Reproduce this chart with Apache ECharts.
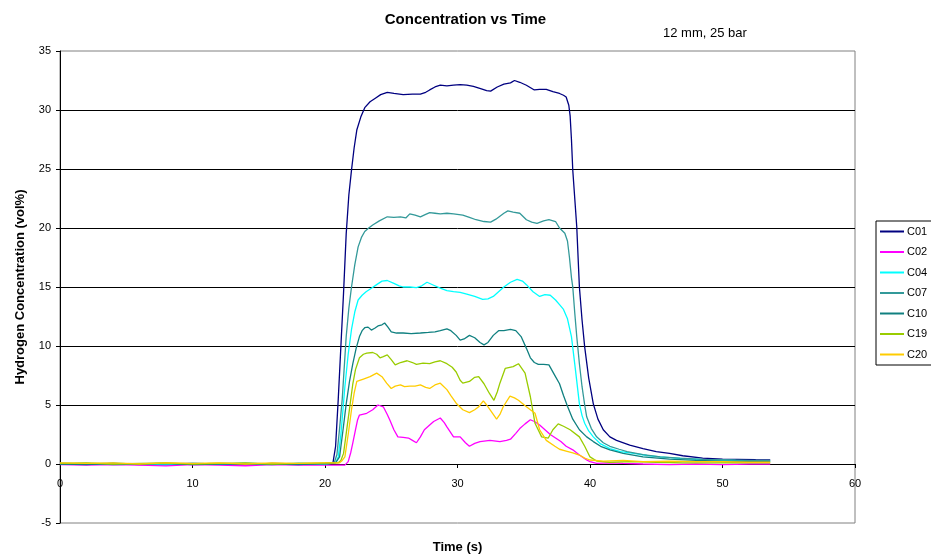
<!DOCTYPE html>
<html>
<head>
<meta charset="utf-8">
<script src="https://cdn.jsdelivr.net/npm/echarts@6/dist/echarts.min.js"></script>
<style>
  html, body { margin: 0; padding: 0; background: #fff; }
  #main { width: 931px; height: 557px; }
</style>
</head>
<body>
<div id="main"></div>
<script>
// [time (s), concentration (vol%)]
var c01 = [
  [0,0.05],[2,0.0],[4,0.05],[6,-0.05],[8,0.0],[10,0.05],[12,0.0],[14,-0.05],[16,0.05],[18,0.0],[20,0.05],[20.6,0.1],
  [20.8,1.5],[21.0,5.5],[21.2,10.0],[21.4,14.5],[21.6,19.5],[21.8,22.8],[22.0,24.9],[22.2,26.8],[22.4,28.3],[22.7,29.4],
  [23.0,30.2],[23.4,30.7],[23.8,31.0],[24.2,31.3],[24.7,31.5],[25.2,31.4],[25.9,31.3],[26.6,31.35],[27.2,31.35],[27.6,31.5],
  [27.9,31.7],[28.3,31.95],[28.7,32.1],[29.2,32.05],[29.7,32.1],[30.2,32.15],[30.7,32.1],[31.2,32.0],[31.8,31.8],[32.2,31.65],
  [32.5,31.6],[33.0,31.95],[33.5,32.2],[34.0,32.3],[34.3,32.5],[34.7,32.35],[35.2,32.1],[35.8,31.7],[36.2,31.75],[36.7,31.75],
  [37.2,31.55],[37.7,31.4],[38.0,31.25],[38.2,31.1],[38.4,30.4],[38.5,29.5],[38.6,27.5],[38.7,24.9],[38.85,22.5],[39.0,20.1],
  [39.2,15.0],[39.4,12.2],[39.6,9.9],[39.9,7.3],[40.25,5.1],[40.6,3.8],[41.0,2.9],[41.5,2.3],[42.0,2.0],[43.0,1.6],[44.0,1.3],
  [45.0,1.05],[46.0,0.9],[47.0,0.7],[48.5,0.5],[50,0.42],[51.1,0.4],[52.5,0.36],[53.6,0.35]
];
var c02 = [
  [0,-0.05],[2,-0.1],[4,-0.05],[6,-0.1],[8,-0.15],[10,-0.05],[12,-0.1],[14,-0.15],[16,-0.05],[18,-0.1],[20,-0.1],[21.5,-0.1],
  [21.75,0.2],[21.95,1.0],[22.1,1.8],[22.3,2.9],[22.45,3.7],[22.6,4.15],[23.15,4.3],[23.6,4.6],[24.0,5.0],[24.4,4.85],[24.7,4.2],
  [24.9,3.7],[25.2,2.9],[25.5,2.3],[25.9,2.25],[26.3,2.2],[26.6,2.0],[26.9,1.8],[27.2,2.3],[27.5,2.9],[27.9,3.3],[28.2,3.6],
  [28.7,3.9],[29.0,3.5],[29.2,3.15],[29.7,2.3],[30.2,2.3],[30.6,1.8],[30.9,1.5],[31.3,1.75],[31.7,1.9],[32.45,2.0],[33.2,1.9],
  [33.7,2.0],[34.0,2.1],[34.4,2.6],[34.7,3.0],[35.1,3.4],[35.5,3.75],[35.8,3.6],[36.2,3.3],[36.6,2.9],[37.0,2.5],[37.4,2.2],
  [37.8,1.9],[38.2,1.5],[38.7,1.2],[39.2,0.76],[39.75,0.34],[40.0,0.2],[40.5,0.05],[41.5,0.1],[42.5,0.05],[44,0.0],[46,-0.05],
  [48,0.0],[50,-0.05],[52,0.0],[53.6,0.0]
];
var c04 = [
  [0,0.05],[2,0.0],[4,0.05],[6,0.0],[8,-0.05],[10,0.05],[12,0.0],[14,0.05],[16,0.0],[18,0.05],[20,0.0],[20.8,0.1],
  [21.0,0.6],[21.2,2.5],[21.5,6.55],[21.75,9.3],[22.0,11.4],[22.25,12.9],[22.5,13.9],[22.8,14.3],[23.1,14.6],[23.5,14.9],
  [23.9,15.2],[24.3,15.5],[24.7,15.55],[25.2,15.3],[25.6,15.1],[25.9,15.0],[26.4,15.0],[26.9,14.95],[27.3,15.1],[27.7,15.4],
  [28.2,15.15],[28.7,14.9],[29.2,14.7],[29.7,14.6],[30.2,14.55],[30.7,14.4],[31.3,14.2],[31.9,13.95],[32.3,14.0],[32.7,14.2],
  [33.1,14.6],[33.5,15.0],[34.0,15.4],[34.5,15.65],[34.9,15.5],[35.2,15.2],[35.7,14.6],[36.2,14.2],[36.6,14.35],[37.0,14.3],
  [37.4,13.9],[37.7,13.5],[38.0,13.1],[38.3,12.3],[38.6,10.8],[38.9,8.0],[39.2,5.1],[39.4,4.1],[39.6,3.45],[39.9,2.8],
  [40.25,2.3],[40.8,1.7],[41.5,1.3],[42.3,1.05],[43.3,0.9],[44.3,0.72],[45.3,0.6],[47,0.45],[49,0.35],[51,0.3],[53.6,0.25]
];
var c07 = [
  [0,0.0],[2,0.05],[4,-0.05],[6,0.0],[8,0.05],[10,0.0],[12,0.05],[14,0.0],[16,-0.05],[18,0.05],[20,0.0],[20.7,0.1],
  [20.9,0.8],[21.1,3.0],[21.3,5.5],[21.6,10.8],[21.8,13.2],[22.0,15.0],[22.25,16.9],[22.5,18.4],[22.75,19.2],[23.0,19.7],
  [23.3,20.0],[23.6,20.25],[24.1,20.6],[24.7,20.95],[25.2,20.9],[25.7,20.95],[26.1,20.85],[26.4,21.2],[26.8,21.1],[27.2,20.95],
  [27.6,21.15],[27.9,21.3],[28.3,21.25],[28.7,21.2],[29.2,21.25],[29.7,21.2],[30.4,21.1],[30.9,20.9],[31.4,20.7],[32.0,20.55],
  [32.5,20.5],[32.9,20.75],[33.2,21.0],[33.5,21.25],[33.8,21.45],[34.2,21.35],[34.7,21.25],[35.2,20.7],[35.6,20.5],[36.0,20.4],
  [36.5,20.6],[36.9,20.7],[37.4,20.55],[37.7,20.0],[38.1,19.55],[38.3,18.9],[38.45,17.5],[38.6,15.8],[38.7,15.0],[38.85,12.8],
  [39.0,10.8],[39.2,8.5],[39.4,6.55],[39.6,5.0],[39.75,4.0],[40.1,3.0],[40.5,2.3],[41.0,1.8],[41.5,1.5],[42.2,1.25],[42.8,1.05],
  [44.0,0.8],[45.3,0.6],[46.8,0.5],[48.5,0.4],[50.5,0.35],[52,0.3],[53.6,0.3]
];
var c10 = [
  [0,0.0],[2,-0.05],[4,0.05],[6,0.0],[8,0.05],[10,-0.05],[12,0.0],[14,0.05],[16,0.0],[18,-0.05],[20,0.05],[20.8,0.1],
  [21.1,0.6],[21.35,2.8],[21.6,5.1],[21.85,7.0],[22.1,8.5],[22.35,9.8],[22.6,10.8],[22.8,11.3],[23.0,11.55],[23.25,11.6],
  [23.5,11.35],[23.75,11.5],[24.0,11.7],[24.3,11.8],[24.5,11.95],[24.75,11.6],[25.0,11.2],[25.4,11.1],[25.9,11.1],[26.5,11.05],
  [27.2,11.1],[27.8,11.15],[28.3,11.2],[28.7,11.3],[29.2,11.45],[29.5,11.3],[29.9,10.9],[30.2,10.5],[30.5,10.6],[30.9,10.9],
  [31.3,10.7],[31.7,10.3],[32.0,10.1],[32.3,10.3],[32.7,10.9],[33.1,11.3],[33.5,11.3],[34.0,11.4],[34.4,11.3],[34.8,10.8],
  [35.2,9.8],[35.5,9.0],[35.8,8.6],[36.1,8.45],[36.5,8.45],[36.9,8.4],[37.3,7.6],[37.7,6.8],[38.0,5.8],[38.3,4.9],[38.7,3.8],
  [39.2,2.9],[39.75,2.3],[40.25,1.9],[40.8,1.5],[41.5,1.2],[42.5,0.9],[44,0.6],[46,0.42],[48,0.3],[50,0.25],[52,0.2],[53.6,0.2]
];
var c19 = [
  [0,0.05],[2,0.1],[4,0.0],[6,0.05],[8,0.1],[10,0.0],[12,0.05],[14,0.1],[16,0.0],[18,0.05],[20,0.1],[21.0,0.1],
  [21.2,0.3],[21.4,0.9],[21.65,3.0],[21.9,5.1],[22.1,6.8],[22.3,8.0],[22.6,9.0],[22.9,9.3],[23.15,9.4],[23.6,9.45],[23.9,9.3],
  [24.15,9.0],[24.4,9.1],[24.7,9.25],[25.0,8.85],[25.3,8.4],[25.7,8.6],[26.2,8.75],[26.6,8.6],[26.9,8.45],[27.4,8.55],[27.9,8.5],
  [28.3,8.65],[28.7,8.75],[29.2,8.5],[29.6,8.2],[29.9,7.8],[30.2,7.1],[30.4,6.85],[30.9,7.0],[31.3,7.35],[31.6,7.4],[32.0,6.8],
  [32.4,6.0],[32.75,5.4],[33.0,6.1],[33.2,6.85],[33.6,8.1],[34.2,8.25],[34.6,8.5],[35.1,7.7],[35.5,5.7],[35.85,3.45],[36.35,2.3],
  [36.85,2.2],[37.2,2.9],[37.6,3.4],[38.0,3.2],[38.5,2.9],[39.2,2.3],[39.6,1.5],[40.0,0.6],[40.5,0.25],[41.5,0.15],[43,0.2],
  [45,0.15],[47,0.1],[49,0.1],[51,0.12],[53.6,0.1]
];
var c20 = [
  [0,0.1],[2,0.05],[4,0.1],[6,0.0],[8,0.1],[10,0.05],[12,0.1],[14,0.0],[16,0.1],[18,0.05],[20,0.1],[21.1,0.1],
  [21.3,0.3],[21.5,0.6],[21.75,2.5],[22.0,4.6],[22.2,6.0],[22.4,7.0],[22.9,7.2],[23.4,7.4],[23.9,7.7],[24.3,7.4],[24.65,6.85],
  [25.0,6.4],[25.3,6.6],[25.7,6.7],[26.0,6.55],[26.4,6.6],[26.8,6.6],[27.2,6.7],[27.6,6.5],[27.9,6.4],[28.3,6.7],[28.7,6.85],
  [29.2,6.3],[29.5,5.8],[29.9,5.15],[30.4,4.6],[30.9,4.35],[31.3,4.6],[31.6,4.85],[31.95,5.35],[32.2,5.0],[32.45,4.6],[32.95,3.8],
  [33.2,4.2],[33.45,4.85],[33.96,5.75],[34.3,5.6],[34.6,5.4],[35.2,4.85],[35.85,4.3],[36.2,2.9],[36.7,2.0],[37.35,1.5],
  [37.7,1.25],[38.2,1.1],[38.7,0.95],[39.2,0.76],[39.6,0.5],[40.0,0.34],[41,0.25],[42.5,0.3],[44,0.2],[46,0.25],[48,0.2],
  [50,0.2],[52,0.15],[53.6,0.15]
];

var seriesNames = ['C01', 'C02', 'C04', 'C07', 'C10', 'C19', 'C20'];
var seriesData = [c01, c02, c04, c07, c10, c19, c20];
var colors = ['#000080', '#ff00ff', '#00ffff', '#339999', '#108080', '#99cc00', '#ffcc00'];

var font = '"Liberation Sans", Arial, sans-serif';
var myChart = echarts.init(document.getElementById('main'));

myChart.setOption({
  animation: false,
  color: colors,
  textStyle: { fontFamily: font },
  title: [
    { text: 'Concentration vs Time', left: 'center', top: 7,
      textStyle: { fontSize: 15, fontWeight: 'bold', color: '#000', fontFamily: font } },
    { text: '12 mm, 25 bar', left: 658, top: 22,
      textStyle: { fontSize: 13, fontWeight: 'normal', color: '#000', fontFamily: font } }
  ],
  legend: {
    orient: 'vertical',
    left: 876,
    top: 221,
    padding: [5, 8, 5, 4],
    icon: 'rect',
    itemWidth: 24,
    itemHeight: 2,
    itemGap: 9.5,
    borderColor: '#000',
    borderWidth: 1,
    backgroundColor: '#fff',
    textStyle: { fontSize: 11, color: '#000', fontFamily: font, padding: [0, 0, 0, -2] },
    data: seriesNames
  },
  grid: {
    left: 60, right: 76, top: 51, bottom: 34,
    outerBoundsMode: 'none',
    show: true, borderColor: '#808080', borderWidth: 1
  },
  xAxis: {
    type: 'value',
    min: 0, max: 60, interval: 10,
    name: 'Time (s)',
    nameLocation: 'middle',
    nameGap: 18,
    nameTextStyle: { fontSize: 13, fontWeight: 'bold', color: '#000' },
    axisLine: { onZero: true, lineStyle: { color: '#000', width: 1 } },
    axisTick: { show: true, length: 4, lineStyle: { color: '#000' } },
    axisLabel: { fontSize: 11, color: '#000', margin: -45 },
    splitLine: { show: false }
  },
  yAxis: {
    type: 'value',
    min: -5, max: 35, interval: 5,
    name: 'Hydrogen Concentration (vol%)',
    nameLocation: 'middle',
    nameGap: 33,
    nameTextStyle: { fontSize: 13, fontWeight: 'bold', color: '#000' },
    axisLine: { show: true, lineStyle: { color: '#000', width: 1 } },
    axisTick: { show: true, length: 4, lineStyle: { color: '#000' } },
    axisLabel: { fontSize: 11, color: '#000', margin: 9 },
    splitLine: { show: true, showMinLine: false, showMaxLine: false, lineStyle: { color: '#000', width: 1 } }
  },
  series: seriesNames.map(function (name, i) {
    return {
      name: name,
      type: 'line',
      data: seriesData[i],
      symbol: 'none',
      smooth: false,
      lineStyle: { width: 1.3 }
    };
  })
});
</script>
</body>
</html>
